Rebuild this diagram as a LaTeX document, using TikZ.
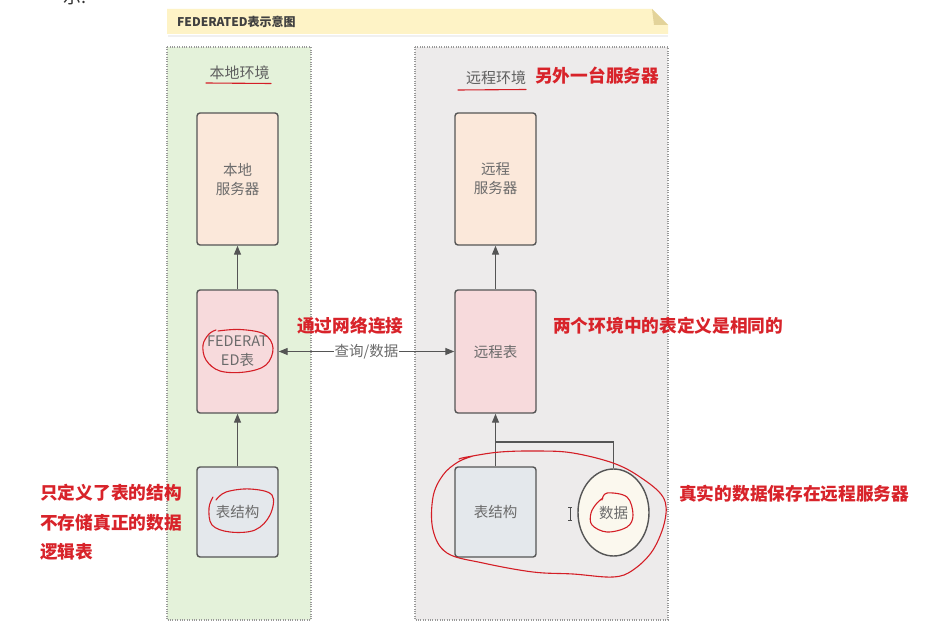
\documentclass[tikz,border=0pt]{standalone}
\usepackage{fontspec}
\setmainfont{Noto Sans CJK SC}
\usetikzlibrary{arrows.meta,shapes.geometric}
\definecolor{envgreen}{HTML}{E4F2DA}
\definecolor{envgray}{HTML}{EDEBEB}
\definecolor{peach}{HTML}{FBE8DA}
\definecolor{pinkbox}{HTML}{F7DADC}
\definecolor{bluegray}{HTML}{E4E8EC}
\definecolor{cream}{HTML}{FBF8EE}
\definecolor{banner}{HTML}{FEF3C6}
\definecolor{fold}{HTML}{E3D39A}
\definecolor{boxline}{HTML}{555555}
\definecolor{txtgray}{HTML}{6A6A6A}
\definecolor{redtxt}{HTML}{D8232A}
\definecolor{redpen}{HTML}{D41E26}
\tikzset{
  envbox/.style={draw=gray!80, line width=1.1pt, dash pattern=on 1pt off 1.4pt},
  sbox/.style={draw=boxline, line width=1.4pt, rounded corners=3pt, minimum width=81pt, text=txtgray, font=\fontsize{14.5}{19}\selectfont, align=center, inner sep=0pt},
  arr/.style={draw=boxline, line width=1.3pt, -{Triangle[length=9pt,width=7pt]}},
  arrboth/.style={draw=boxline, line width=1.3pt, {Triangle[length=9pt,width=7pt]}-{Triangle[length=9pt,width=7pt]}},
  conn/.style={draw=boxline, line width=1.3pt},
  note/.style={text=redtxt, font=\fontsize{17.7}{22}\selectfont\bfseries, anchor=west, inner sep=0pt},
  envtitle/.style={text=txtgray!90!black, font=\fontsize{15}{18}\selectfont, inner sep=0pt},
  pen/.style={draw=redpen, line width=1.1pt, line cap=round, line join=round},
}
\begin{document}
\begin{tikzpicture}[x=1pt,y=-1pt]
\useasboundingbox (0,0) rectangle (936,639);
\fill[white] (0,0) rectangle (936,639);
% partial text at top
\node[anchor=base west, inner sep=0pt, font=\fontsize{18}{20}\selectfont, text=black!80] (cut) at (63,4) {示:};
% banner
\fill[black!6] (168,35) -- (668,35) -- (668,37) -- (168,37) -- cycle;
\fill[banner] (167,9) -- (652,9) -- (668,25) -- (668,34) -- (167,34) -- cycle;
\fill[fold] (652,9) -- (668,25) -- (654,25) -- cycle;
\node[anchor=west, inner sep=0pt, font=\fontsize{12}{14}\selectfont\bfseries, text=black!75] (ttl) at (177,22) {FEDERATED表示意图};
% environments
\path[envbox, fill=envgreen] (167,47) rectangle (311,620);
\path[envbox, fill=envgray] (415,47) rectangle (668,620);
\node[envtitle] (lenv) at (239.5,73) {本地环境};
\node[envtitle] (renv) at (496,78) {远程环境};
\node[note] (other) at (535,76) {另外一台服务器};
% boxes left
\node[sbox, fill=peach, minimum height=132pt] (lsrv) at (237.5,179) {本地\\服务器};
\node[sbox, fill=pinkbox, minimum height=123pt] (fed) at (237.5,351.5) {FEDERAT\\ED表};
\node[sbox, fill=bluegray, minimum height=90pt] (lts) at (237.5,512) {表结构};
% boxes right
\node[sbox, fill=peach, minimum height=132pt] (rsrv) at (495.5,179) {远程\\服务器};
\node[sbox, fill=pinkbox, minimum height=123pt] (rtab) at (495.5,351.5) {远程表};
\node[sbox, fill=bluegray, minimum height=90pt] (rts) at (495.5,512) {表结构};
\node[ellipse, draw=boxline, line width=1.4pt, fill=cream, minimum width=71pt, minimum height=87pt, inner sep=0pt, text=txtgray, font=\fontsize{14.5}{19}\selectfont] (data) at (613.5,512.5) {数据};
% connectors
\draw[arr] (lts.north) -- (fed.south);
\draw[arr] (fed.north) -- (lsrv.south);
\draw[arr] (rtab.north) -- (rsrv.south);
\draw[arr] (rts.north) -- (rtab.south);
\coordinate (join) at (495.5,442);
\draw[conn] (data.north) |- (join);
\draw[arrboth] (fed.east) -- node[fill=white, inner sep=1pt, text=txtgray, font=\fontsize{14.5}{17}\selectfont] (qd) {查询/数据} (rtab.west);
% red notes
\node[note] (n1) at (297,326) {通过网络连接};
\node[note] (n2) at (553,326) {两个环境中的表定义是相同的};
\node[note] (n3) at (40,493) {只定义了表的结构};
\node[note] (n4) at (40,523) {不存储真正的数据};
\node[note] (n5) at (40,552) {逻辑表};
\node[note] (n6) at (679,494) {真实的数据保存在远程服务器};
% red pen marks
\draw[pen] (206,83) -- (271,83.5);
\draw[pen] (458,90) -- (526,89.5);
\draw[pen] plot[smooth, tension=0.6] coordinates {(218,331) (240,329.5) (264,334) (273,348) (266,365) (245,372) (220,371) (206,360) (203,345) (209,334) (216,330)};
\draw[pen] plot[smooth, tension=0.6] coordinates {(216,500) (226,492) (250,489) (272,495) (270,515) (255,530) (230,532) (212,525) (209,508) (213,497)};
\draw[pen] plot[smooth, tension=0.6] coordinates {(459,459) (467,457) (500,452) (540,451) (573,453) (613,463) (640,477) (663,497) (665,520) (653,550) (633,570) (613,577) (573,574) (533,572) (483,563) (447,553) (433,530) (433,497) (443,475) (458,462) (473,456)};
\draw[pen] plot[smooth, tension=0.6] coordinates {(602,500) (607,493) (627,497) (633,515) (627,527) (607,532) (592,525) (591,513) (597,503) (603,498)};
% text cursor
\draw[black!70, line width=0.7pt] (570,507) -- (570,520) (568,507) -- (572,507) (568,520) -- (572,520);
\end{tikzpicture}
\end{document}
